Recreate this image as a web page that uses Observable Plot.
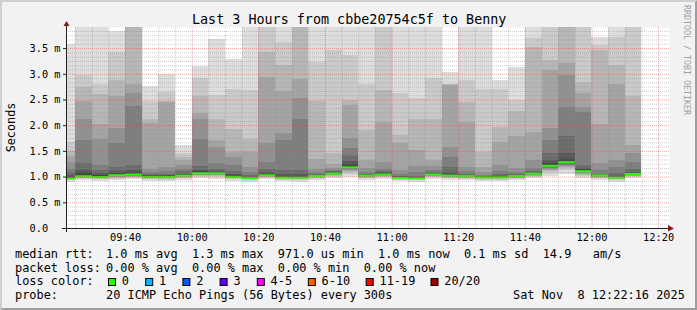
<!DOCTYPE html>
<html><head><meta charset="utf-8">
<script src="https://cdn.jsdelivr.net/npm/d3@7"></script>
<script src="https://cdn.jsdelivr.net/npm/@observablehq/plot@0.6"></script>
<style>
html,body{margin:0;padding:0;background:#f2f2f2;}
#chart{width:697px;height:310px;overflow:hidden;}
svg text{white-space:pre;}
</style></head>
<body><div id="chart"></div>
<script>
// ---- data ----
const stepStarts = ["09:20","09:25","09:30","09:35","09:40","09:45","09:50","09:55","10:00","10:05",
  "10:10","10:15","10:20","10:25","10:30","10:35","10:40","10:45","10:50","10:55","11:00","11:05",
  "11:10","11:15","11:20","11:25","11:30","11:35","11:40","11:45","11:50","11:55","12:00","12:05","12:10"];
const medians = [0.975,1.017,1.0,1.037,1.05,1.0,1.0,1.03,1.075,1.075,1.0,0.98,1.035,0.99,0.99,1.02,1.07,1.19,
  1.03,1.05,0.985,0.975,1.05,1.03,1.02,0.995,0.995,1.02,1.07,1.22,1.29,1.115,1.03,0.99,1.06];
// pings 11..20 of each round (ms)
const upperPings = [
  [0.985,1.0,1.03,1.08,1.15,1.28,1.40,1.50,1.68,3.58],
  [1.04,1.08,1.13,1.26,1.71,2.13,2.47,2.75,2.97,4.2],
  [1.01,1.03,1.07,1.12,1.23,1.74,2.03,2.61,2.81,4.2],
  [1.05,1.07,1.10,1.19,1.65,1.94,2.56,2.87,3.43,3.83],
  [1.06,1.09,1.13,1.22,2.37,2.62,2.81,3.95,4.2,4.5],
  [1.005,1.01,1.03,1.05,1.09,1.15,2.05,2.13,2.47,2.76],
  [1.0,1.01,1.03,1.06,1.10,1.18,2.45,2.47,2.65,3.0],
  [1.035,1.045,1.06,1.10,1.15,1.23,1.32,1.38,1.46,1.61],
  [1.085,1.10,1.12,1.20,1.74,2.13,2.23,2.57,2.92,3.16],
  [1.085,1.095,1.11,1.15,1.26,1.58,1.71,2.13,2.59,3.67],
  [1.005,1.02,1.05,1.10,1.22,1.38,1.48,1.93,2.70,3.29],
  [0.985,0.99,1.0,1.03,1.08,1.19,1.48,1.74,2.68,4.2],
  [1.045,1.06,1.09,1.14,1.29,1.65,2.94,3.42,4.0,4.5],
  [1.0,1.01,1.05,1.12,1.71,1.84,2.67,3.17,3.61,4.2],
  [1.0,1.02,1.06,1.13,2.12,2.52,2.90,4.0,4.3,4.6],
  [1.02,1.025,1.03,1.05,1.08,1.15,1.35,2.47,3.23,4.2],
  [1.075,1.08,1.09,1.10,1.12,1.16,1.25,1.45,3.46,4.2],
  [1.21,1.24,1.30,1.42,1.55,1.75,2.39,2.49,3.36,4.2],
  [1.035,1.04,1.045,1.06,1.09,1.16,1.32,1.90,2.81,4.2],
  [1.055,1.065,1.08,1.10,1.15,1.29,2.07,2.68,4.1,4.5],
  [0.99,0.995,1.005,1.02,1.06,1.13,1.65,1.81,2.62,4.2],
  [0.98,0.99,1.0,1.02,1.08,1.20,1.52,2.13,2.52,4.2],
  [1.055,1.06,1.07,1.09,1.13,1.20,1.32,2.13,2.91,4.2],
  [1.04,1.06,1.09,1.18,1.39,1.58,2.78,2.80,2.81,3.04],
  [1.025,1.03,1.04,1.06,1.10,1.18,2.07,2.46,2.87,4.2],
  [1.0,1.005,1.01,1.02,1.04,1.08,1.19,1.48,2.71,4.2],
  [1.0,1.01,1.02,1.05,1.10,1.23,1.68,1.97,2.71,2.87],
  [1.025,1.03,1.035,1.05,1.08,1.16,1.78,2.27,2.49,3.14],
  [1.075,1.08,1.09,1.11,1.17,1.32,1.87,3.52,3.69,4.2],
  [1.24,1.27,1.32,1.45,1.71,1.94,3.07,3.27,4.1,4.5],
  [1.31,1.35,1.45,1.78,2.36,2.97,3.21,4.1,4.5,4.8],
  [1.13,1.14,1.17,1.23,2.26,2.36,2.62,2.84,4.1,4.5],
  [1.03,1.035,1.04,1.06,1.12,1.26,2.03,3.46,3.56,3.72],
  [0.995,1.0,1.02,1.07,1.19,1.32,2.81,3.17,3.72,4.2],
  [1.065,1.075,1.09,1.14,1.29,1.45,1.61,2.56,4.1,4.5]
];
// pings 1..10 of each round (ms)
const lowerPings = [
  [0.90,0.93,0.945,0.955,0.96,0.965,0.968,0.97,0.972,0.965],
  [0.93,0.955,0.97,0.98,0.99,1.0,1.005,1.01,1.012,0.994],
  [0.92,0.945,0.96,0.97,0.978,0.985,0.99,0.993,0.995,0.99],
  [0.94,0.96,0.98,0.99,1.0,1.01,1.015,1.02,1.025,1.024],
  [0.95,0.975,0.99,1.0,1.01,1.02,1.03,1.035,1.04,1.04],
  [0.92,0.95,0.96,0.97,0.98,0.985,0.99,0.993,0.995,0.995],
  [0.91,0.94,0.96,0.97,0.975,0.98,0.985,0.99,0.993,1.0],
  [0.94,0.965,0.98,0.99,1.0,1.01,1.015,1.02,1.022,1.025],
  [0.97,1.0,1.02,1.03,1.04,1.05,1.055,1.06,1.065,1.065],
  [0.96,0.99,1.01,1.03,1.04,1.05,1.055,1.06,1.065,1.065],
  [0.92,0.95,0.965,0.975,0.98,0.985,0.99,0.993,0.995,0.995],
  [0.90,0.93,0.945,0.955,0.96,0.965,0.97,0.972,0.975,0.975],
  [0.95,0.975,0.99,1.0,1.01,1.015,1.02,1.025,1.027,1.025],
  [0.91,0.94,0.955,0.965,0.97,0.975,0.98,0.982,0.985,0.98],
  [0.90,0.93,0.95,0.96,0.97,0.975,0.98,0.982,0.984,0.98],
  [0.93,0.96,0.975,0.985,0.995,1.0,1.005,1.01,1.015,1.02],
  [0.98,1.0,1.02,1.03,1.04,1.05,1.055,1.06,1.063,1.065],
  [1.0,1.05,1.08,1.11,1.13,1.15,1.16,1.17,1.175,1.17],
  [0.94,0.965,0.98,0.99,1.0,1.01,1.015,1.02,1.022,1.025],
  [0.96,0.985,1.0,1.01,1.02,1.03,1.035,1.04,1.042,1.045],
  [0.91,0.935,0.95,0.96,0.965,0.97,0.975,0.978,0.98,0.98],
  [0.90,0.93,0.945,0.955,0.96,0.965,0.968,0.97,0.97,0.97],
  [0.96,0.985,1.0,1.01,1.02,1.03,1.035,1.04,1.042,1.045],
  [0.94,0.965,0.98,0.99,1.0,1.01,1.015,1.02,1.02,1.02],
  [0.93,0.955,0.97,0.98,0.99,1.0,1.005,1.01,1.012,1.015],
  [0.91,0.94,0.955,0.965,0.975,0.98,0.985,0.988,0.99,0.99],
  [0.91,0.94,0.955,0.965,0.975,0.98,0.985,0.988,0.99,0.99],
  [0.93,0.955,0.97,0.98,0.99,1.0,1.005,1.01,1.012,1.015],
  [0.97,0.995,1.01,1.02,1.035,1.045,1.05,1.055,1.06,1.065],
  [1.02,1.07,1.10,1.13,1.15,1.17,1.185,1.195,1.20,1.20],
  [1.05,1.12,1.16,1.19,1.21,1.23,1.25,1.26,1.27,1.27],
  [0.97,1.01,1.04,1.06,1.07,1.08,1.09,1.095,1.10,1.10],
  [0.94,0.965,0.98,0.99,1.0,1.01,1.015,1.02,1.022,1.025],
  [0.90,0.93,0.95,0.96,0.965,0.97,0.975,0.98,0.982,0.985],
  [0.97,0.995,1.01,1.02,1.03,1.04,1.045,1.05,1.052,1.055]
];
const xTickLabels = ["09:40","10:00","10:20","10:40","11:00","11:20","11:40","12:00","12:20"];
const yTickValues = [0,0.5,1.0,1.5,2.0,2.5,3.0,3.5];
const yTickLabels = ["0.0","0.5 m","1.0 m","1.5 m","2.0 m","2.5 m","3.0 m","3.5 m"];
const titleText = "Last 3 Hours from cbbe20754c5f to Benny";
const yLabelText = "Seconds";
const watermarkText = "RRDTOOL / TOBI OETIKER";
const legendLabels = ["median rtt:","packet loss:","loss color:","probe:"];
const rttStats = "1.0 ms avg  1.3 ms max  971.0 us min  1.0 ms now  0.1 ms sd  14.9   am/s";
const lossStats = "0.00 % avg  0.00 % max  0.00 % min  0.00 % now";
const probeText = "20 ICMP Echo Pings (56 Bytes) every 300s";
const dateText = "Sat Nov  8 12:22:16 2025";
const lossLabels = ["0","1","2","3","4-5","6-10","11-19","20/20"];
const lossColors = ["#26ff00","#00b8ff","#0059ff","#5e00ff","#ff00ff","#ff5e00","#ff0000","#a10000"];

// ---- build ----
const at = (hm, s = 0) => { const [h, m] = hm.split(":").map(Number); return new Date(2025, 10, 8, h, m, s); };
const xDomain = [at("09:22", 16), at("12:23", 16)];
const yDomain = [0, 3.91];

const bars = stepStarts.map((s, i) => ({
  t1: at(s), t2: new Date(+at(s) + 300000), median: medians[i],
  pings: [...lowerPings[i], ...upperPings[i]].sort((a, b) => a - b)
}));
const layers = [];
for (let k = 1; k <= 10; k++) {
  const g = Math.floor(190 / 10 * (10 - k)) + 50;
  const fill = d3.rgb(g, g, g).formatHex();
  for (const b of bars) layers.push({t1: b.t1, t2: b.t2, lo: b.pings[k - 1], hi: b.pings[20 - k], fill});
}
const majorTimes = xTickLabels.map(l => at(l));
const minorTimes = d3.timeMinute.every(5).range(xDomain[0], xDomain[1]).filter(t => t.getMinutes() % 20 !== 0);
const minorY = d3.range(1, 47).filter(k => k % 6 !== 0).map(k => k / 12);
const majorY = yTickValues.filter(v => v > 0);
const dash = "1,1";
const axisStart = () => xDomain[0];

const plot = Plot.plot({
  width: 697, height: 310,
  marginLeft: 66, marginRight: 28, marginTop: 27, marginBottom: 82,
  style: {background: "transparent", fontFamily: "DejaVu Sans Mono", fontSize: "10.3px", color: "#000"},
  x: {type: "time", domain: xDomain},
  y: {domain: yDomain},
  marks: [
    Plot.frame({fill: "#ffffff", stroke: null}),
    Plot.rect(layers, {x1: "t1", x2: "t2", y1: "lo", y2: "hi", fill: "fill", clip: true, shapeRendering: "crispEdges"}),
    Plot.ruleY(bars, {x1: "t1", x2: "t2", y: "median", stroke: "#26ff00", strokeWidth: 2, clip: true}),
    Plot.ruleX(minorTimes, {stroke: "#8f8f8f", strokeOpacity: 0.45, strokeDasharray: dash}),
    Plot.ruleY(minorY, {stroke: "#8f8f8f", strokeOpacity: 0.45, strokeDasharray: dash}),
    Plot.ruleX(majorTimes, {stroke: "#de5050", strokeOpacity: 0.5, strokeDasharray: dash}),
    Plot.ruleY(majorY, {stroke: "#de5050", strokeOpacity: 0.5, strokeDasharray: dash}),
    Plot.axisX(majorTimes, {tickSize: 0, tickPadding: 5.4, tickFormat: (d, i) => xTickLabels[i], fill: "#000"}),
    Plot.axisY(yTickValues, {tickSize: 0, tickPadding: 0, textAnchor: "start", dx: -37, tickFormat: (d, i) => yTickLabels[i], fill: "#000"}),
    Plot.ruleY(yTickValues, {x1: axisStart, x2: axisStart, stroke: "#1f1f1f", insetLeft: -3}),
    Plot.ruleY([0], {stroke: "#1f1f1f", insetLeft: -4, insetRight: 1}),
    Plot.ruleX([xDomain[0]], {stroke: "#1f1f1f", insetTop: -1, insetBottom: -4})
  ]
});
document.getElementById("chart").appendChild(plot);

const svg = d3.select(plot);
const xs = plot.scale("x"), ys = plot.scale("y");
const x0 = xs.apply(xDomain[0]) + 0.5, y0 = ys.apply(0), xEnd = xs.apply(xDomain[1]), yTop = ys.apply(yDomain[1]);

// arrows
svg.append("path").attr("d", `M${xEnd - 1},${y0 - 3}L${xEnd + 5},${y0 + 0.5}L${xEnd - 1},${y0 + 3.5}Z`).attr("fill", "#801f1f");
svg.append("path").attr("d", `M${x0 - 3},${yTop - 1}L${x0},${yTop - 6}L${x0 + 3},${yTop - 1}Z`).attr("fill", "#801f1f");

// shade frame
svg.append("path").attr("d", "M0,0H697L695,2H2V308L0,310Z").attr("fill", "#cfcfcf");
svg.append("path").attr("d", "M697,0V310H0L2,308H695V2Z").attr("fill", "#9e9e9e");

const mono = "DejaVu Sans Mono";
const ann = svg.append("g").attr("font-family", mono).attr("fill", "#000").attr("text-anchor", "start");
// title
ann.append("text").attr("x", 192).attr("y", 24).attr("font-size", 13.4).text(titleText);
// y label
ann.append("text").attr("transform", `translate(14.5,${(y0 + yTop) / 2}) rotate(-90)`).attr("text-anchor", "middle")
  .attr("font-size", 11.8).text(yLabelText);
// watermark
ann.append("text").attr("transform", "translate(683.5,5) rotate(90)")
  .attr("font-size", 8.3).attr("fill", "#a0a0a0").text(watermarkText);

// legend
const lg = ann.append("g").attr("font-size", 11.9);
const rowY = [258, 271.7, 285.3, 299];
legendLabels.forEach((t, i) => lg.append("text").attr("x", 15).attr("y", rowY[i]).text(t));
lg.append("text").attr("x", 106).attr("y", rowY[0]).text(rttStats);
lg.append("text").attr("x", 106).attr("y", rowY[1]).text(lossStats);
lg.append("text").attr("x", 106).attr("y", rowY[3]).text(probeText);
lg.append("text").attr("x", 513).attr("y", rowY[3]).text(dateText);
let bx = 108;
lossLabels.forEach((t, i) => {
  lg.append("rect").attr("x", bx + 0.5).attr("y", 278.5).attr("width", 7).attr("height", 7)
    .attr("fill", lossColors[i]).attr("stroke", "#000").attr("stroke-width", 1);
  lg.append("text").attr("x", bx + 13.8).attr("y", rowY[2]).text(t);
  bx += 30.3 + 6.9 * t.length;
});
</script>
</body></html>
